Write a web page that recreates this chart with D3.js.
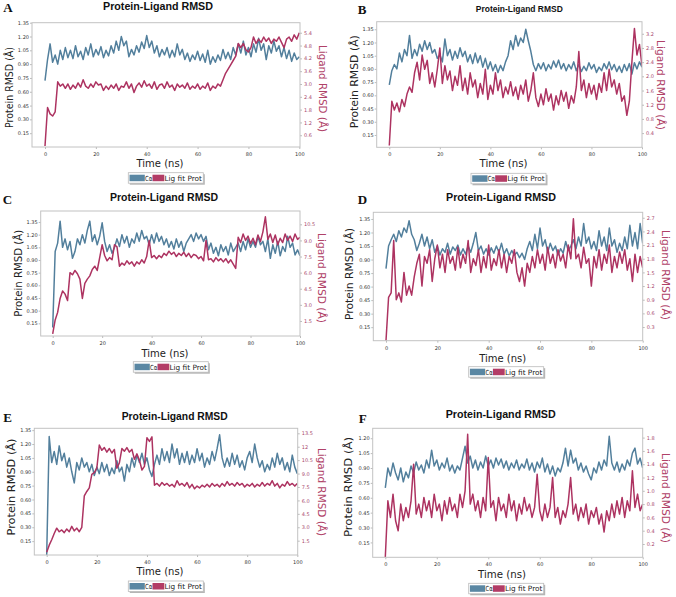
<!DOCTYPE html>
<html><head><meta charset="utf-8">
<script src="https://cdn.jsdelivr.net/npm/d3@7"></script>
<style>body{margin:0;background:#fff}svg{display:block}</style>
</head><body><svg id="c" width="676" height="597"></svg>
<script>
// ---------------- DATA ----------------
const time = [0,1,2,3,4,5,6,7,8,9,10,11,12,13,14,15,16,17,18,19,20,21,22,23,24,25,26,27,28,29,30,31,32,33,34,35,36,37,38,39,40,41,42,43,44,45,46,47,48,49,50,51,52,53,54,55,56,57,58,59,60,61,62,63,64,65,66,67,68,69,70,71,72,73,74,75,76,77,78,79,80,81,82,83,84,85,86,87,88,89,90,91,92,93,94,95,96,97,98,99,100];
const xTicks = [0,20,40,60,80,100];
const leftTicks = [0.15,0.30,0.45,0.60,0.75,0.90,1.05,1.20,1.35];
const leftTicksF = [0.15,0.30,0.45,0.60,0.75,0.90,1.05,1.20];
const rightTicksA = [0.6,1.2,1.8,2.4,3.0,3.6,4.2,4.8,5.4];
const rightTicksB = [0.4,0.8,1.2,1.6,2.0,2.4,2.8,3.2];
const rightTicksC = [1.5,3.0,4.5,6.0,7.5,9.0,10.5];
const rightTicksD = [0.3,0.6,0.9,1.2,1.5,1.8,2.1,2.4,2.7];
const rightTicksE = [1.5,3.0,4.5,6.0,7.5,9.0,10.5,12,13.5];
const rightLabelsE = ["1.5","3.0","4.5","6.0","7.5","9.0","10.5","12","13.5"];
const rightTicksF = [0.2,0.4,0.6,0.8,1.0,1.2,1.4,1.6,1.8];
const panelLetters = ["A","B","C","D","E","F"];
const chartTitle = "Protein-Ligand RMSD";
const xTitle = "Time (ns)";
const leftTitle = "Protein RMSD (Å)";
const rightTitle = "Ligand RMSD (Å)";
const seriesNames = ["Cα","Lig fit Prot"];

const aCa = [0.72,0.95,1.12,0.92,1.00,0.90,1.05,0.95,1.08,0.97,1.05,0.96,1.10,0.98,1.04,0.95,1.08,1.00,1.12,0.98,1.06,1.00,1.09,0.97,1.05,0.99,1.10,1.02,1.15,1.05,1.20,1.10,1.15,0.98,1.06,1.00,1.10,1.03,1.14,1.07,1.21,1.08,1.15,1.02,1.10,0.98,1.06,1.00,1.08,0.97,1.05,0.98,1.12,1.00,1.06,0.95,1.02,0.93,1.00,0.95,1.04,0.94,1.01,0.92,1.05,0.90,0.98,0.92,1.00,0.94,1.06,0.96,1.03,0.95,1.08,1.00,1.12,1.02,1.15,1.00,1.08,0.98,1.12,1.03,1.18,1.05,1.12,0.95,1.10,1.02,1.15,1.04,1.10,0.98,1.08,0.96,1.05,0.93,1.02,0.95,0.98];
const aLig = [0.1,1.9,1.6,1.5,1.7,3.1,2.9,3.0,2.8,3.0,2.75,2.95,2.8,3.05,2.85,3.2,2.9,2.8,3.0,2.85,3.1,2.95,3.0,2.7,2.9,2.75,2.95,2.8,3.0,2.7,2.9,2.85,3.1,2.8,3.0,2.6,2.9,3.05,2.85,3.15,2.9,3.0,2.8,3.1,2.75,2.95,3.0,2.8,3.1,2.85,2.95,2.7,3.0,2.85,2.95,2.8,3.05,2.75,2.9,2.8,3.0,2.75,2.9,2.8,3.05,2.7,2.9,2.8,3.0,2.9,3.2,3.5,3.7,3.9,4.1,4.3,4.9,4.7,4.9,4.6,4.5,4.7,5.2,4.9,5.1,4.95,5.2,5.0,5.15,4.9,5.1,5.0,5.2,4.95,4.7,5.1,5.2,5.0,5.3,5.1,5.4];

const bCa = [0.72,0.88,0.95,0.90,1.08,0.98,1.12,1.05,1.28,1.02,1.12,1.05,1.18,1.10,1.22,1.12,1.20,1.08,1.12,1.02,1.06,0.98,1.24,1.05,1.12,1.00,1.10,1.02,1.14,1.04,1.10,0.98,1.06,0.96,1.08,0.97,1.05,0.92,1.02,0.90,0.98,0.88,0.95,0.86,0.94,0.88,0.98,1.05,1.22,1.12,1.28,1.16,1.25,1.20,1.35,1.22,1.10,0.95,0.88,0.96,0.90,0.97,0.88,0.95,0.90,0.99,0.92,1.00,0.90,0.96,0.88,0.95,0.90,0.98,0.88,0.95,0.87,0.93,0.88,0.97,0.90,0.95,0.86,0.92,0.88,0.96,0.90,0.98,0.89,0.95,0.87,0.93,0.86,0.95,0.88,0.96,0.84,0.97,0.90,0.98,0.92];
const bLig = [0.05,1.3,1.05,1.25,1.0,1.35,1.15,1.5,1.7,1.55,2.1,2.4,1.9,2.6,2.2,2.45,1.8,2.1,1.7,2.2,2.8,1.8,2.3,1.9,2.15,1.6,2.0,1.75,2.3,1.6,1.95,1.5,2.1,1.7,1.9,1.4,1.8,1.5,2.2,1.35,1.75,1.5,2.1,1.6,1.9,1.4,1.7,1.5,1.85,1.45,1.7,1.35,1.75,1.5,1.9,1.3,1.6,2.1,1.4,1.15,1.5,1.2,1.65,1.3,1.5,1.05,1.45,1.2,1.6,1.3,1.55,1.1,1.45,1.25,1.7,2.7,1.6,1.9,1.4,1.8,1.5,1.75,1.35,1.8,1.55,2.1,1.6,2.2,1.7,1.9,1.5,1.8,1.3,1.45,0.9,1.3,2.4,3.35,2.6,2.9,2.3];

const cCa = [0.1,1.0,1.1,1.36,1.05,1.15,1.02,1.12,0.92,1.0,1.15,1.08,1.2,1.1,1.25,1.36,1.12,1.2,1.08,1.18,1.34,1.12,1.0,1.08,0.98,1.05,1.15,1.06,1.2,1.1,1.18,1.05,1.15,1.1,1.22,1.12,1.25,1.15,1.18,1.08,1.2,1.1,1.22,1.12,1.18,1.08,1.15,1.05,1.12,1.03,1.15,1.05,1.12,1.0,1.1,1.15,1.2,1.12,1.22,1.15,1.2,1.12,1.18,1.02,1.1,0.98,1.05,0.95,1.08,1.0,1.06,0.96,1.1,1.0,1.05,1.1,1.0,1.12,1.02,1.15,1.05,1.12,1.05,1.18,1.08,1.12,1.0,1.15,0.92,1.08,0.98,1.12,0.95,1.06,1.0,1.18,1.05,1.1,0.96,1.02,0.95];
const cLig = [0.3,1.6,2.3,3.6,4.3,4.0,3.4,6.0,5.8,6.2,5.9,5.4,3.6,5.0,5.4,5.7,6.3,6.6,6.2,7.4,8.6,7.6,7.1,7.4,7.2,8.6,8.4,6.6,6.9,6.7,7.1,6.8,7.0,6.6,7.0,6.8,7.2,6.9,7.5,9.0,7.4,7.6,7.3,7.6,7.4,7.8,7.6,8.0,7.7,7.9,7.5,7.8,7.6,7.9,7.5,7.8,7.4,7.7,7.6,7.3,7.5,7.1,9.0,7.2,7.3,7.0,7.4,7.1,7.3,7.0,7.3,6.9,7.2,6.8,6.4,9.3,8.8,9.6,9.0,9.4,8.7,9.2,8.6,9.5,8.9,9.8,11.2,9.1,9.6,8.8,9.5,8.6,9.2,8.8,9.6,9.0,9.4,8.9,9.6,9.1,9.3];

const dCa = [0.8,1.05,1.12,1.18,1.1,1.22,1.15,1.25,1.2,1.33,1.18,1.12,1.0,1.08,1.18,1.05,1.15,1.02,1.12,0.98,1.05,0.95,1.02,0.98,1.08,0.96,1.04,1.0,1.06,0.95,1.02,0.96,1.05,0.98,1.08,1.2,1.0,1.05,0.96,1.02,0.95,1.03,0.97,1.05,0.98,1.08,0.96,1.02,0.94,1.0,0.95,0.98,0.92,0.97,0.9,1.02,1.1,1.0,1.18,1.02,1.25,1.05,1.12,0.98,1.08,1.0,1.05,0.95,1.02,0.97,1.1,1.0,1.05,1.12,1.02,1.15,1.05,1.3,1.08,1.15,1.02,1.1,1.0,1.22,1.05,1.15,1.0,1.25,1.05,1.12,0.98,1.08,1.0,1.15,1.02,1.28,1.05,1.2,1.02,1.3,1.08];
const dLig = [0.0,0.95,1.05,2.2,0.9,1.05,0.85,1.5,1.0,1.2,1.0,1.4,1.7,1.9,1.2,1.85,1.7,2.0,1.3,1.8,2.1,1.6,1.9,1.5,2.0,1.7,1.85,1.55,2.05,1.6,1.9,1.7,2.2,1.5,1.8,1.65,2.0,1.5,1.85,1.6,2.1,1.55,1.8,1.65,2.0,1.6,1.9,1.5,1.85,1.7,2.0,1.5,1.3,1.6,1.2,1.7,1.5,1.85,1.6,2.0,1.7,1.9,1.55,2.05,1.7,1.9,1.6,2.0,1.75,1.9,1.6,2.1,1.8,2.68,1.8,1.9,1.6,2.05,1.7,1.8,1.2,1.85,1.6,2.0,1.55,1.9,1.7,2.1,1.5,1.85,1.6,1.95,1.7,2.0,1.55,1.8,1.3,1.9,1.5,1.85,1.6];

const eCa = [0.0,1.28,1.0,1.12,0.98,1.18,1.02,1.1,0.95,1.05,0.9,0.78,1.0,0.92,1.05,0.95,1.0,0.9,0.98,0.86,0.95,0.88,1.0,0.9,0.98,0.86,0.94,0.88,1.02,0.9,0.95,0.8,0.98,0.9,1.05,0.95,1.08,1.0,1.1,0.98,1.05,0.92,0.85,0.98,1.08,0.98,1.15,1.02,1.12,1.0,1.2,1.05,1.15,0.98,1.1,1.0,1.12,0.98,1.08,1.0,1.15,1.02,1.1,0.95,1.05,0.98,1.12,1.02,1.15,1.3,1.05,0.95,1.05,0.96,1.1,0.98,1.08,0.95,1.02,0.92,1.05,1.12,1.0,1.2,1.05,0.95,1.02,0.9,0.98,0.92,1.05,0.95,1.1,0.98,1.05,0.92,1.0,0.9,1.08,0.95,0.88];
const eLig = [0.2,1.0,1.6,2.3,2.9,2.5,2.7,2.4,2.8,2.5,3.1,2.6,2.9,2.5,3.0,6.5,7.0,7.4,8.9,9.1,9.6,12.2,11.6,11.9,11.4,11.8,11.3,11.7,9.6,10.2,11.8,11.5,11.9,11.4,11.7,10.6,11.2,10.5,9.4,9.8,13.0,12.6,13.1,7.7,7.9,7.6,8.0,7.7,7.9,7.6,7.8,7.5,8.2,7.7,7.9,7.6,8.0,7.4,7.8,7.3,7.6,7.4,7.7,7.5,7.8,7.5,7.9,7.6,7.8,7.5,7.9,7.6,8.1,7.7,7.9,7.6,8.0,7.7,7.9,7.5,7.8,7.6,7.9,7.5,7.8,7.6,8.0,7.6,7.9,7.7,8.2,7.6,7.9,7.4,7.8,7.6,8.1,7.7,7.9,7.6,7.9];

const fCa = [0.7,0.9,0.82,0.95,0.85,0.78,0.9,0.76,0.86,0.8,0.92,0.85,0.96,0.88,0.93,0.85,0.98,0.9,1.08,0.92,0.98,0.88,0.95,0.9,1.0,0.87,0.93,0.85,0.92,0.88,1.0,1.12,0.95,1.02,0.9,0.98,0.88,0.96,0.9,1.02,0.92,0.98,0.9,1.0,0.93,0.99,0.9,0.97,0.88,0.95,0.9,0.98,0.88,0.94,0.9,0.99,0.88,0.95,0.86,0.96,0.9,1.0,0.86,0.94,0.84,0.92,0.82,0.9,0.86,0.95,1.1,0.92,1.08,0.95,1.0,0.88,0.95,0.86,0.92,0.84,0.78,0.9,0.85,0.96,0.88,0.98,0.92,1.22,0.95,0.88,0.96,0.86,0.94,0.88,0.98,0.92,1.05,1.1,0.94,1.0,0.9];
const fLig = [0.0,0.85,0.6,0.95,0.55,0.4,0.8,0.55,0.75,0.6,0.85,1.4,0.65,0.8,0.6,0.9,0.7,0.85,0.6,0.95,0.7,0.8,0.55,0.85,0.65,0.9,0.7,0.8,0.6,0.95,0.75,1.0,1.85,0.8,0.95,0.7,0.85,0.6,0.9,0.7,1.5,0.75,0.85,0.55,0.9,0.7,0.8,0.6,0.95,0.7,0.85,0.55,0.8,0.65,0.9,0.7,0.8,0.6,0.75,1.25,0.7,0.55,0.8,0.6,0.75,1.2,0.6,0.75,0.5,0.7,0.6,0.8,1.2,0.65,0.8,0.55,0.75,0.6,0.8,0.5,0.7,0.6,0.75,0.5,0.65,0.38,0.7,0.55,0.8,0.6,0.85,0.65,0.9,0.6,0.85,0.7,1.3,0.75,0.95,0.7,0.8];

// ---------------- LAYOUT ----------------
const fmt1 = d3.format(".1f"), fmt2 = d3.format(".2f");
const panels = [
 {ca:aCa, lig:aLig, lt:leftTicks, rt:rightTicksA, rf:fmt1,
  L:32,R:300,T:22.7,B:147,x0:45,x100:299.3,yl:[0,1.35],yr:[0.05,5.87],
  title:[158,10,10.5,110], letter:[3.3,12], lLab:[9,87.5,81], rLab:[323,88.5,87], xLab:[160,166.5,47], leg:[128.3,172.7]},
 {ca:bCa, lig:bLig, lt:leftTicks, rt:rightTicksB, rf:fmt1,
  L:376.7,R:642,T:21.7,B:147.3,x0:389.3,x100:642,yl:[0.01,1.436],yr:[0,3.54],
  title:[519.3,12,8.6,87], letter:[357.7,13.5], lLab:[354.3,81.7,93], rLab:[661,85,90], xLab:[503.5,166.7,48], leg:[471,173.3]},
 {ca:cCa, lig:cLig, lt:leftTicks, rt:rightTicksC, rf:fmt1,
  L:40.7,R:300,T:211,B:336,x0:52.7,x100:300,yl:[0,1.48],yr:[0.1,11.74],
  title:[164,201,10.5,108], letter:[2.7,203.5], lLab:[18,273.3,87], rLab:[321.7,278,90], xLab:[165,356.7,47], leg:[133.3,361.7]},
 {ca:dCa, lig:dLig, lt:leftTicks, rt:rightTicksD, rf:fmt1,
  L:373.3,R:642.7,T:212.3,B:340.7,x0:386,x100:642.7,yl:[0,1.424],yr:[0,2.82],
  title:[501,201,10.5,110], letter:[357.7,203.5], lLab:[349,274,92], rLab:[666,275,90], xLab:[502.7,361.7,47], leg:[468.7,366.7]},
 {ca:eCa, lig:eLig, lt:leftTicks, rt:rightTicksE, rf:(d,i)=>rightLabelsE[i],
  L:34.3,R:297.7,T:428.3,B:555,x0:46.7,x100:297.3,yl:[0,1.37],yr:[-0.1,14.06],
  title:[174.7,420,10.3,106], letter:[3.3,422], lLab:[11,487,97], rLab:[321.7,492,88], xLab:[160,575,47], leg:[128.3,581]},
 {ca:fCa, lig:fLig, lt:leftTicksF, rt:rightTicksF, rf:fmt1,
  L:372.7,R:642.7,T:428.3,B:557.3,x0:385.3,x100:642.7,yl:[0,1.30],yr:[0,1.94],
  title:[500.7,418,10.5,110], letter:[358.7,422.5], lLab:[348.5,487,100], rLab:[666,498,90], xLab:[502,577.7,48], leg:[468.7,583.3]}
];

const blue = "#527f9c", red = "#ad3361";
const rightTxt = "#a8486e";
const svg = d3.select("#c");
const defs = svg.append("defs");

function styleAxis(a, color){
  a.select(".domain").remove();
  a.selectAll("line").attr("stroke","#aaa").attr("stroke-width",0.8);
  a.selectAll("text").attr("font-family","DejaVu Sans").attr("font-size",5).attr("fill",color);
}

panels.forEach((p,i)=>{
  const g = svg.append("g");
  const x = d3.scaleLinear().domain([0,100]).range([p.x0,p.x100]);
  const yl = d3.scaleLinear().domain(p.yl).range([p.B,p.T]);
  const yr = d3.scaleLinear().domain(p.yr).range([p.B,p.T]);

  const ax = g.append("g").attr("transform",`translate(0,${p.B})`)
    .call(d3.axisBottom(x).tickValues(xTicks).tickSize(2).tickPadding(3.5).tickFormat(d3.format("d")));
  styleAxis(ax,"#333");
  const al = g.append("g").attr("transform",`translate(${p.L},0)`)
    .call(d3.axisLeft(yl).tickValues(p.lt).tickSize(2).tickPadding(1).tickFormat(fmt2));
  styleAxis(al,"#333");
  const ar = g.append("g").attr("transform",`translate(${p.R},0)`)
    .call(d3.axisRight(yr).tickValues(p.rt).tickSize(2).tickPadding(2).tickFormat(p.rf));
  styleAxis(ar,rightTxt);

  const cid = "clip"+i;
  defs.append("clipPath").attr("id",cid).append("rect")
    .attr("x",p.L).attr("y",p.T).attr("width",p.R-p.L).attr("height",p.B-p.T);

  const lineL = d3.line().x((d,j)=>x(time[j])).y(d=>yl(d));
  const lineR = d3.line().x((d,j)=>x(time[j])).y(d=>yr(d));
  const pg = g.append("g").attr("clip-path",`url(#${cid})`);
  pg.append("path").datum(p.ca).attr("d",lineL).attr("fill","none")
    .attr("stroke",blue).attr("stroke-width",1.5).attr("stroke-linejoin","round");
  pg.append("path").datum(p.lig).attr("d",lineR).attr("fill","none")
    .attr("stroke",red).attr("stroke-width",1.5).attr("stroke-linejoin","round");

  g.append("rect").attr("x",p.L).attr("y",p.T).attr("width",p.R-p.L).attr("height",p.B-p.T)
    .attr("fill","none").attr("stroke","#c2c2c2").attr("stroke-width",1);

  g.append("text").attr("x",p.title[0]).attr("y",p.title[1]).attr("text-anchor","middle")
    .attr("font-family","Liberation Sans, Arial, sans-serif").attr("font-weight","bold")
    .attr("font-size",p.title[2]).attr("fill","#111")
    .attr("textLength",p.title[3]).attr("lengthAdjust","spacingAndGlyphs").text(chartTitle);
  g.append("text").attr("x",p.letter[0]).attr("y",p.letter[1])
    .attr("font-family","Liberation Serif, serif").attr("font-weight","bold")
    .attr("font-size",13).attr("fill","#111").text(panelLetters[i]);

  g.append("text").attr("transform",`translate(${p.lLab[0]},${p.lLab[1]}) rotate(-90)`)
    .attr("text-anchor","middle").attr("dy","0.35em")
    .attr("font-family","DejaVu Sans").attr("font-size",10.5).attr("fill","#222")
    .attr("textLength",p.lLab[2]).attr("lengthAdjust","spacingAndGlyphs").text(leftTitle);
  g.append("text").attr("transform",`translate(${p.rLab[0]},${p.rLab[1]}) rotate(90)`)
    .attr("text-anchor","middle").attr("dy","0.35em")
    .attr("font-family","DejaVu Sans").attr("font-size",11).attr("fill","#b04268")
    .attr("textLength",p.rLab[2]).attr("lengthAdjust","spacingAndGlyphs").text(rightTitle);
  g.append("text").attr("x",p.xLab[0]).attr("y",p.xLab[1]).attr("text-anchor","middle")
    .attr("font-family","DejaVu Sans").attr("font-size",11).attr("fill","#222")
    .attr("textLength",p.xLab[2]).attr("lengthAdjust","spacingAndGlyphs").text(xTitle);

  const lg = g.append("g").attr("transform",`translate(${p.leg[0]},${p.leg[1]})`);
  lg.append("rect").attr("x",1.5).attr("y",1.5).attr("width",75).attr("height",10.5).attr("fill","#b5b5b5");
  lg.append("rect").attr("x",0).attr("y",0).attr("width",75).attr("height",10.5)
    .attr("fill","#fff").attr("stroke","#bbb").attr("stroke-width",0.8);
  lg.append("rect").attr("x",1.2).attr("y",2).attr("width",15.3).attr("height",6.5).attr("fill","#5a87a3");
  lg.append("rect").attr("x",24.2).attr("y",2).attr("width",11.8).attr("height",6.5).attr("fill","#b33c66");
  lg.append("text").attr("x",16.7).attr("y",7.9).attr("font-family","DejaVu Sans")
    .attr("font-size",7).attr("fill","#222").attr("textLength",7.3)
    .attr("lengthAdjust","spacingAndGlyphs").text(seriesNames[0]);
  lg.append("text").attr("x",36.2).attr("y",7.9).attr("font-family","DejaVu Sans")
    .attr("font-size",7.3).attr("fill","#222").attr("textLength",37.5)
    .attr("lengthAdjust","spacingAndGlyphs").text(seriesNames[1]);
});
</script>
</body></html>
